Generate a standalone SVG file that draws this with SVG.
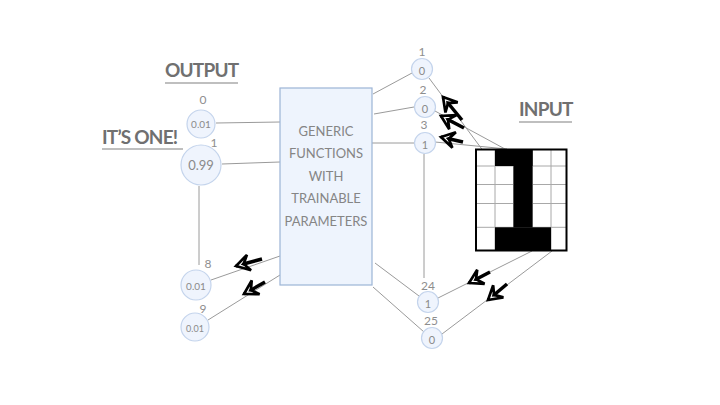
<svg xmlns="http://www.w3.org/2000/svg" width="720" height="405" viewBox="0 0 720 405">
<defs>
<style>
.title{font-family:Lato,"Open Sans","Liberation Sans",sans-serif;font-size:19px;font-weight:bold;fill:#707070;letter-spacing:-0.8px}
.ul{stroke:#808080;stroke-width:1.2}
.node{fill:#eff4fd;stroke:#c4d4ec;stroke-width:1.2}
.nt{font-family:Lato,"Open Sans","Liberation Sans",sans-serif;fill:#8a8a8a;text-anchor:middle;dominant-baseline:central}
.lbl{font-family:Lato,"Open Sans","Liberation Sans",sans-serif;font-size:12px;fill:#8e8e8e;text-anchor:middle}
.conn{stroke:#9a9a9a;stroke-width:1;fill:none}
.arr{stroke:#000;stroke-width:3.5;stroke-linecap:butt;marker-end:url(#head)}
.boxt{font-family:Lato,"Open Sans","Liberation Sans",sans-serif;font-size:13px;fill:#858585;text-anchor:middle}
.gl{stroke:#a8a8a8;stroke-width:1}
</style>
<marker id="head" markerUnits="userSpaceOnUse" markerWidth="22" markerHeight="22" refX="0" refY="0" viewBox="-13 -9 15 18" orient="auto">
<path d="M0,0 L-11,-6.5 L-6.5,0 L-11,6.5 Z" fill="#fff" stroke="#000" stroke-width="2.2" stroke-linejoin="miter"/>
<path d="M-4,0 L-9,-3 L-7.5,0 L-9,3 Z" fill="#000"/>
</marker>
</defs>
<rect width="720" height="405" fill="#fff"/>

<g id="connectors">
<line class="conn" x1="216" y1="123" x2="280" y2="122"/>
<line class="conn" x1="222" y1="164" x2="280" y2="162"/>
<line class="conn" x1="199" y1="186" x2="199" y2="265"/>
<line class="conn" x1="211" y1="280" x2="280" y2="256"/>
<line class="conn" x1="208" y1="320" x2="280" y2="275"/>
<line class="conn" x1="373" y1="94" x2="412" y2="73"/>
<line class="conn" x1="374" y1="114" x2="414" y2="107"/>
<line class="conn" x1="372" y1="143" x2="415" y2="143"/>
<line class="conn" x1="375" y1="263" x2="419" y2="296"/>
<line class="conn" x1="373" y1="287" x2="424" y2="332"/>
<line class="conn" x1="424" y1="154" x2="424" y2="278"/>
<line class="conn" x1="429" y1="78" x2="487" y2="156"/>
<line class="conn" x1="435" y1="111" x2="505" y2="149"/>
<line class="conn" x1="435" y1="142" x2="507" y2="149"/>
<line class="conn" x1="438" y1="298" x2="532" y2="251"/>
<line class="conn" x1="442" y1="334" x2="552" y2="251"/>
</g>

<g id="arrows">
<line class="arr" x1="462" y1="120" x2="443" y2="97"/>
<line class="arr" x1="464" y1="128" x2="441" y2="116"/>
<line class="arr" x1="463" y1="142" x2="441" y2="137"/>
<line class="arr" x1="262" y1="259" x2="236" y2="266"/>
<line class="arr" x1="265" y1="282" x2="244" y2="294"/>
<line class="arr" x1="490" y1="272" x2="469" y2="283"/>
<line class="arr" x1="507" y1="284" x2="488" y2="300"/>
</g>

<g id="box">
<rect x="280" y="88" width="92" height="197" fill="#eef4fd" stroke="#9cb4d6" stroke-width="1.2"/>
<text class="boxt" x="326" y="136">GENERIC</text>
<text class="boxt" x="326" y="158">FUNCTIONS</text>
<text class="boxt" x="326" y="181">WITH</text>
<text class="boxt" x="326" y="203">TRAINABLE</text>
<text class="boxt" x="326" y="226">PARAMETERS</text>
</g>

<g id="out0">
<circle class="node" cx="201" cy="124" r="14"/>
<text class="nt" x="201" y="124" font-size="10">0.01</text>
<text class="lbl" x="203" y="104">0</text>
</g>
<g id="out1">
<circle class="node" cx="201" cy="165" r="20"/>
<text class="nt" x="201" y="165" font-size="13">0.99</text>
<text class="lbl" x="214" y="147">1</text>
</g>
<g id="out8">
<circle class="node" cx="196" cy="285" r="15"/>
<text class="nt" x="196" y="286" font-size="10">0.01</text>
<text class="lbl" x="208" y="268">8</text>
</g>
<g id="out9">
<circle class="node" cx="195" cy="327" r="14"/>
<text class="nt" x="195" y="328" font-size="9">0.01</text>
<text class="lbl" x="203" y="313">9</text>
</g>

<g id="in1">
<circle class="node" cx="422" cy="69" r="10.5"/>
<text class="nt" x="422" y="70" font-size="11">0</text>
<text class="lbl" x="422" y="56">1</text>
</g>
<g id="in2">
<circle class="node" cx="425" cy="107" r="10.5"/>
<text class="nt" x="425" y="108" font-size="11">0</text>
<text class="lbl" x="423" y="94">2</text>
</g>
<g id="in3">
<circle class="node" cx="425" cy="143" r="10.5"/>
<text class="nt" x="425" y="144" font-size="11">1</text>
<text class="lbl" x="424" y="129">3</text>
</g>
<g id="in24">
<circle class="node" cx="428" cy="302" r="10.5"/>
<text class="nt" x="428" y="303" font-size="11">1</text>
<text class="lbl" x="428" y="290">24</text>
</g>
<g id="in25">
<circle class="node" cx="432" cy="338" r="10.5"/>
<text class="nt" x="432" y="339" font-size="11">0</text>
<text class="lbl" x="431" y="325">25</text>
</g>

<g id="input-grid">
<rect x="476" y="149.5" width="90.5" height="101" fill="#fff"/>
<line class="gl" x1="495" y1="149.5" x2="495" y2="250.7"/>
<line class="gl" x1="513.5" y1="149.5" x2="513.5" y2="250.7"/>
<line class="gl" x1="532.5" y1="149.5" x2="532.5" y2="250.7"/>
<line class="gl" x1="551" y1="149.5" x2="551" y2="250.7"/>
<line class="gl" x1="476" y1="166" x2="566.5" y2="166"/>
<line class="gl" x1="476" y1="184.5" x2="566.5" y2="184.5"/>
<line class="gl" x1="476" y1="203.5" x2="566.5" y2="203.5"/>
<line class="gl" x1="476" y1="227.3" x2="566.5" y2="227.3"/>
<rect x="495" y="149.5" width="37.5" height="16.5" fill="#000"/>
<rect x="513.5" y="149.5" width="19" height="78" fill="#000"/>
<rect x="495" y="227.3" width="56" height="23.5" fill="#000"/>
<rect x="476" y="149.5" width="90.5" height="101" fill="none" stroke="#000" stroke-width="2"/>
</g>

<g id="titles">
<text class="title" x="165" y="77">OUTPUT</text>
<line class="ul" x1="165" y1="83" x2="238" y2="83"/>
<text class="title" x="102" y="144">IT’S ONE!</text>
<line class="ul" x1="102" y1="149" x2="183" y2="149"/>
<text class="title" x="519" y="116">INPUT</text>
<line class="ul" x1="519" y1="122" x2="572" y2="122"/>
</g>
</svg>
